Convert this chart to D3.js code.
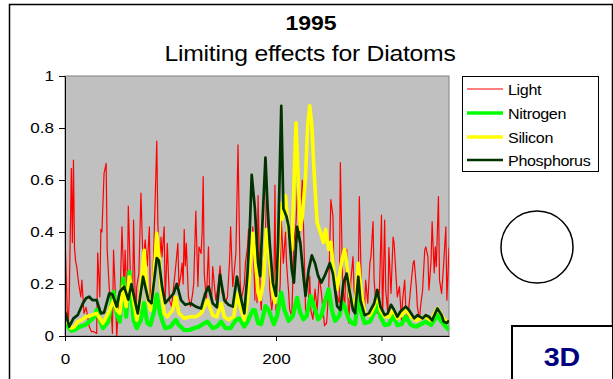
<!DOCTYPE html>
<html><head><meta charset="utf-8">
<script src="https://cdn.jsdelivr.net/npm/d3@7"></script>
<style>
html,body{margin:0;padding:0;background:#fff;}
svg{display:block;font-family:"Liberation Sans",Arial,sans-serif;}
</style></head>
<body>
<svg id="chart" width="613" height="379"></svg>
<script>
// ---- data ----
const seriesNames = ["Light", "Nitrogen", "Silicon", "Phosphorus"];
const xTicks = [0, 100, 200, 300];
const yTicks = [0, 0.2, 0.4, 0.6, 0.8, 1];

const lightDay = [0,2,3,4,6,7,8,9,10,11,13,15,16,18,20,23,25,27,30,31,33,34,35,37,39,40,42,43,45,46,48,49,51,52,54,56,57,59,60,62,64,65,67,68,70,72,74,76,78,80,81,83,87,88,90,91,92,94,95,97,98,99,101,103,105,107,108,110,111,112,113,114,115,117,119,121,122,124,126,127,129,130,131,132,134,136,137,139,140,142,143,145,147,149,150,152,154,156,157,159,160,162,164,166,167,170,171,173,174,176,178,180,181,182,183,185,186,188,190,191,193,194,196,198,199,200,202,204,205,207,209,210,212,213,215,217,219,221,222,224,225,227,228,230,232,233,235,237,239,241,243,246,248,250,252,254,255,257,260,261,263,265,267,269,271,273,274,276,278,279,281,282,284,285,287,289,290,292,293,295,296,298,300,301,303,304,306,307,309,311,312,314,315,317,319,320,322,323,325,326,328,330,331,333,334,336,337,339,341,342,344,345,347,348,350,351,352,354,355,357,359,361,362,364];
const lightVal = [.395,.11,.036,.14,.645,.36,.677,.34,.29,.27,.2,.15,.215,.087,.11,.036,.017,.017,.01,.32,.15,.41,.4,.625,.664,.33,.18,.15,.01,.33,.14,0,.125,.11,.42,.177,.33,.11,.5,.23,.087,.446,.05,.19,.24,.55,.27,.37,.27,.42,.11,.164,.75,.43,.27,.38,.305,.42,.138,.356,.24,.138,.113,.19,.27,.356,.19,.24,.28,.2,.41,.27,.356,.15,.113,.164,.2,.48,.19,.343,.317,.4,.613,.24,.138,.343,.19,.138,.267,.177,.138,.19,.27,.164,.177,.126,.15,.29,.42,.19,.228,.32,.735,.215,.138,.2,.28,.343,.41,.24,.42,.138,.36,.128,.54,.167,.1,.28,.38,.58,.36,.18,.1,.18,.58,.1,.077,.2,.45,.28,.4,.28,.167,.1,.077,.36,.436,.63,.36,.525,.6,.28,.1,.077,.23,.1,.064,.18,.1,.23,.167,.04,.05,.18,.525,.46,.23,.167,.128,.667,.23,.1,.333,.05,.215,.305,.177,.126,.215,.536,.177,.06,.113,.215,.126,.28,.305,.44,.215,.113,.087,.164,.465,.06,.446,.177,.087,.34,.164,.38,.356,.215,.15,.19,.06,.138,.215,.113,.06,.113,.2,.28,.29,.19,.113,.06,.113,.177,.33,.343,.305,.177,.29,.44,.243,.343,.267,.536,.215,.164,.28,.42,.138,.34];

const nitroDay = [0,3,6,9,14,19,23,28,30,33,36,41,46,49,52,55,58,61,65,68,72,75,78,81,84,87,90,92,95,100,105,108,113,118,122,127,132,135,140,144,148,152,157,162,165,170,173,178,180,183,186,190,193,198,201,205,208,212,216,220,223,226,229,233,236,240,243,246,250,253,256,260,263,265,269,272,275,278,281,284,289,293,296,299,303,307,311,315,319,323,328,333,337,342,347,353,356,361,364];
const nitroVal = [.051,.036,.02,.023,.036,.042,.055,.074,.1,.062,.03,.055,.17,.087,.055,.222,.074,.247,.062,.03,.062,.126,.049,.042,.087,.16,.087,.062,.03,.036,.062,.042,.023,.023,.03,.036,.049,.055,.03,.036,.055,.03,.03,.062,.068,.036,.055,.1,.1,.05,.045,.115,.1,.045,.077,.167,.1,.058,.077,.147,.09,.064,.077,.154,.115,.064,.077,.128,.18,.1,.058,.077,.128,.115,.064,.05,.045,.158,.087,.05,.055,.087,.126,.074,.042,.045,.08,.042,.045,.074,.042,.036,.045,.055,.042,.08,.06,.036,.023];

const siliconDay = [0,3,6,9,12,16,20,25,30,33,36,41,46,49,52,55,58,61,65,68,71,75,78,81,84,87,90,91,94,97,102,105,108,113,119,124,129,135,140,144,148,151,155,160,163,167,170,173,176,178,181,183,185,188,191,193,197,199,202,204,206,209,212,215,217,219,221,223,225,228,230,232,234,236,239,242,245,247,250,252,255,258,262,265,267,270,273,275,278,281,284,289,293,296,299,303,307,311,315,319,323,328,333,337,342,347,353,356,360,364];
const siliconVal = [.062,.049,.03,.036,.055,.062,.074,.08,.087,.068,.049,.087,.138,.1,.087,.19,.113,.228,.138,.062,.138,.33,.15,.1,.2,.395,.27,.19,.087,.074,.1,.15,.087,.068,.074,.074,.087,.138,.08,.074,.126,.074,.062,.074,.164,.1,.062,.138,.305,.395,.27,.167,.14,.205,.41,.333,.167,.128,.28,.51,.45,.54,.4,.333,.577,.82,.615,.41,.46,.615,.81,.885,.81,.64,.436,.4,.36,.41,.333,.36,.24,.18,.28,.333,.28,.154,.128,.1,.28,.164,.087,.08,.113,.164,.1,.074,.074,.1,.068,.08,.1,.074,.06,.068,.074,.06,.106,.087,.06,.055];

const phosDay = [0,4,8,12,17,20,23,26,30,34,37,42,45,49,52,56,60,63,66,69,74,79,82,87,89,92,95,100,103,106,110,114,119,124,129,133,136,140,144,147,151,155,159,163,166,170,173,175,177,180,183,185,187,190,192,194,197,200,202,205,207,210,212,215,217,220,223,226,228,231,234,237,240,243,246,251,254,258,261,264,267,270,273,275,278,280,284,288,293,296,299,303,306,309,312,315,318,323,326,331,334,339,342,345,348,353,357,359,362,364];
const phosVal = [.094,.036,.068,.08,.126,.145,.151,.138,.138,.087,.09,.164,.16,.113,.17,.19,.14,.2,.14,.087,.228,.138,.126,.3,.29,.19,.126,.15,.164,.2,.138,.12,.126,.113,.106,.164,.19,.126,.11,.235,.138,.12,.113,.228,.16,.087,.24,.395,.62,.49,.28,.23,.42,.686,.5,.36,.205,.154,.36,.885,.49,.46,.42,.256,.205,.42,.36,.23,.154,.256,.31,.28,.23,.205,.23,.28,.24,.115,.1,.205,.24,.167,.1,.087,.228,.138,.08,.087,.125,.177,.113,.08,.087,.12,.1,.074,.094,.113,.1,.068,.08,.068,.08,.074,.06,.106,.08,.055,.05,.06];

// ---- drawing ----
const svg = d3.select("#chart");
const plot = {left: 65, right: 449, top: 76, bottom: 336};
const SX = 1.13; // horizontal stretch of the original's lettering

const x = d3.scaleLinear().domain([0, 364]).range([plot.left, plot.right]);
const y = d3.scaleLinear().domain([0, 1]).range([plot.bottom, plot.top]);

function label(parent, tx, ty, str, size, opts = {}) {
  const t = parent.append("text")
    .attr("transform", `translate(${tx},${ty}) scale(${opts.sx || SX},1)`)
    .attr("font-size", size).attr("text-anchor", opts.anchor || "start")
    .attr("fill", opts.fill || "#000").text(str);
  if (opts.bold) t.attr("font-weight", "bold");
  if (opts.ls != null) t.attr("letter-spacing", opts.ls);
  return t;
}

// outer frame
svg.append("rect").attr("x", 9.5).attr("y", 4.5).attr("width", 603).attr("height", 400)
  .attr("fill", "#fff").attr("stroke", "#000").attr("stroke-width", 1.5);

// titles
label(svg, 311, 30, "1995", 20, {anchor: "middle", bold: true, sx: 1.15});
label(svg, 310, 61, "Limiting effects for Diatoms", 21.5, {anchor: "middle", sx: 1.15, ls: -0.2});

// plot background
svg.append("rect").attr("x", plot.left).attr("y", plot.top)
  .attr("width", plot.right - plot.left).attr("height", plot.bottom - plot.top)
  .attr("fill", "#C0C0C0").attr("stroke", "#808080").attr("stroke-width", 1);

svg.append("clipPath").attr("id", "clip").append("rect")
  .attr("x", plot.left).attr("y", plot.top - 2)
  .attr("width", plot.right - plot.left).attr("height", plot.bottom - plot.top + 2);

const series = [
  {name: seriesNames[0], days: lightDay, vals: lightVal, color: "#FF0000", width: 1.2},
  {name: seriesNames[1], days: nitroDay, vals: nitroVal, color: "#00FF00", width: 4.2},
  {name: seriesNames[2], days: siliconDay, vals: siliconVal, color: "#FFFF00", width: 3.6},
  {name: seriesNames[3], days: phosDay, vals: phosVal, color: "#003300", width: 2.7}
];

const line = d3.line().x(d => x(d[0])).y(d => y(d[1]));
const g = svg.append("g").attr("clip-path", "url(#clip)");
series.forEach(s => {
  const pts = s.days.map((d, i) => [d, s.vals[i]]);
  g.append("path").attr("d", line(pts)).attr("fill", "none")
    .attr("stroke", s.color).attr("stroke-width", s.width)
    .attr("stroke-linejoin", "round");
});

// axes
const xAxis = d3.axisBottom(x).tickValues(xTicks).tickSize(5).tickSizeOuter(0).tickPadding(12);
const yAxis = d3.axisLeft(y).tickValues(yTicks).tickSize(6).tickSizeOuter(0).tickPadding(4)
  .tickFormat(d => d === 0 ? "0" : d === 1 ? "1" : d3.format(".1f")(d));
const gx = svg.append("g").attr("transform", `translate(0,${plot.bottom})`).call(xAxis);
const gy = svg.append("g").attr("transform", `translate(${plot.left},0)`).call(yAxis);
[gx, gy].forEach(a => {
  a.selectAll("path,line").attr("stroke", "#000").attr("stroke-width", 1);
  a.selectAll("text").attr("font-size", 15.5).attr("fill", "#000")
    .attr("font-family", '"Liberation Sans",Arial,sans-serif')
    .attr("transform", "scale(1.1,1)");
});

// legend
const lg = svg.append("g");
lg.append("rect").attr("x", 462.5).attr("y", 76.5).attr("width", 136).attr("height", 95)
  .attr("fill", "#fff").attr("stroke", "#000").attr("stroke-width", 1);
const legY = [89, 113, 137, 160];
series.forEach((s, i) => {
  lg.append("line").attr("x1", 467).attr("x2", 503).attr("y1", legY[i]).attr("y2", legY[i])
    .attr("stroke", s.color).attr("stroke-width", Math.min(s.width, 3.5));
  label(lg, 508, legY[i] + 6, s.name, 14, {sx: 1.15, ls: -0.3});
});

// circle
svg.append("circle").attr("cx", 537).attr("cy", 247).attr("r", 36)
  .attr("fill", "none").attr("stroke", "#000").attr("stroke-width", 1.5);

// 3D box
svg.append("rect").attr("x", 512).attr("y", 326).attr("width", 101).attr("height", 80)
  .attr("fill", "#fff").attr("stroke", "#000").attr("stroke-width", 2);
label(svg, 562, 366, "3D", 26, {anchor: "middle", bold: true, fill: "#000080", sx: 1.1});
</script>
</body></html>
